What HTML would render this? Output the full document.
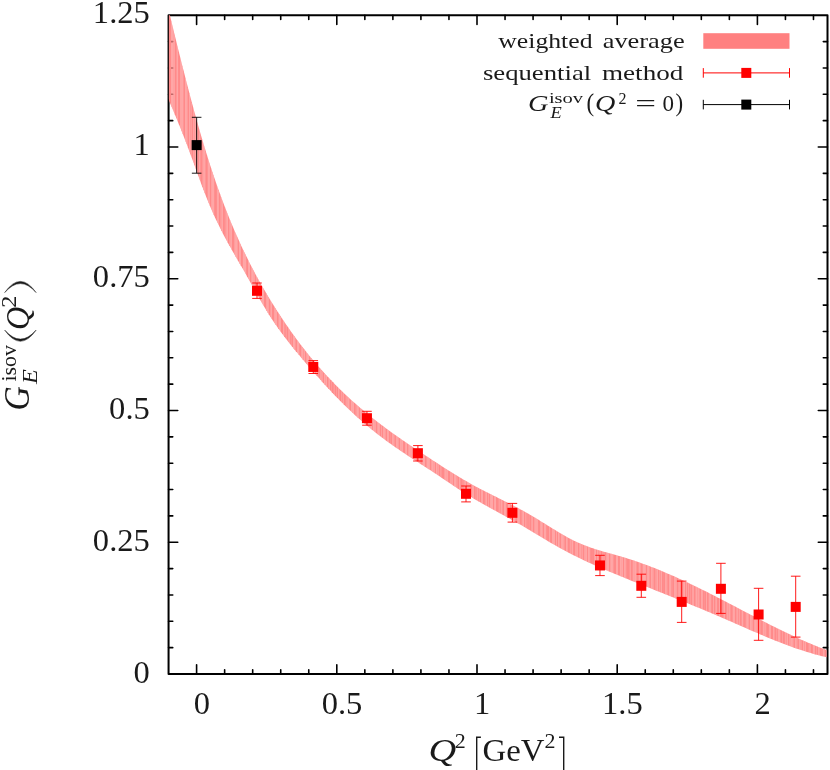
<!DOCTYPE html>
<html><head><meta charset="utf-8"><title>G_E isov</title>
<style>html,body{margin:0;padding:0;background:#fff;}body{width:830px;height:770px;overflow:hidden;}svg{display:block;will-change:transform;}text{font-family:"Liberation Serif",serif;fill:#1a1a1a;}.i{font-style:italic;}</style></head><body>
<svg width="830" height="770" viewBox="0 0 830 770">
<rect x="0" y="0" width="830" height="770" fill="#ffffff"/>
<defs><clipPath id="pc"><rect x="168.86" y="15.25" width="657.94" height="658.75"/></clipPath></defs>
<path d="M196.60 674.00v-9.20M196.60 15.25v9.20M224.64 674.00v-4.20M224.64 15.25v4.20M252.68 674.00v-4.20M252.68 15.25v4.20M280.72 674.00v-4.20M280.72 15.25v4.20M308.76 674.00v-4.20M308.76 15.25v4.20M336.80 674.00v-9.20M336.80 15.25v9.20M364.84 674.00v-4.20M364.84 15.25v4.20M392.88 674.00v-4.20M392.88 15.25v4.20M420.92 674.00v-4.20M420.92 15.25v4.20M448.96 674.00v-4.20M448.96 15.25v4.20M477.00 674.00v-9.20M477.00 15.25v9.20M505.04 674.00v-4.20M505.04 15.25v4.20M533.08 674.00v-4.20M533.08 15.25v4.20M561.12 674.00v-4.20M561.12 15.25v4.20M589.16 674.00v-4.20M589.16 15.25v4.20M617.20 674.00v-9.20M617.20 15.25v9.20M645.24 674.00v-4.20M645.24 15.25v4.20M673.28 674.00v-4.20M673.28 15.25v4.20M701.32 674.00v-4.20M701.32 15.25v4.20M729.36 674.00v-4.20M729.36 15.25v4.20M757.40 674.00v-9.20M757.40 15.25v9.20M785.44 674.00v-4.20M785.44 15.25v4.20M813.48 674.00v-4.20M813.48 15.25v4.20M168.56 647.65h4.20M827.50 647.65h-4.20M168.56 621.30h4.20M827.50 621.30h-4.20M168.56 594.95h4.20M827.50 594.95h-4.20M168.56 568.60h4.20M827.50 568.60h-4.20M168.56 542.25h9.20M827.50 542.25h-9.20M168.56 515.90h4.20M827.50 515.90h-4.20M168.56 489.55h4.20M827.50 489.55h-4.20M168.56 463.20h4.20M827.50 463.20h-4.20M168.56 436.85h4.20M827.50 436.85h-4.20M168.56 410.50h9.20M827.50 410.50h-9.20M168.56 384.15h4.20M827.50 384.15h-4.20M168.56 357.80h4.20M827.50 357.80h-4.20M168.56 331.45h4.20M827.50 331.45h-4.20M168.56 305.10h4.20M827.50 305.10h-4.20M168.56 278.75h9.20M827.50 278.75h-9.20M168.56 252.40h4.20M827.50 252.40h-4.20M168.56 226.05h4.20M827.50 226.05h-4.20M168.56 199.70h4.20M827.50 199.70h-4.20M168.56 173.35h4.20M827.50 173.35h-4.20M168.56 147.00h9.20M827.50 147.00h-9.20M168.56 120.65h4.20M827.50 120.65h-4.20M168.56 94.30h4.20M827.50 94.30h-4.20M168.56 67.95h4.20M827.50 67.95h-4.20M168.56 41.60h4.20M827.50 41.60h-4.20" stroke="#000" stroke-width="1.6" stroke-linecap="round" fill="none"/>
<rect x="168.56" y="15.25" width="658.94" height="658.75" fill="none" stroke="#000" stroke-width="2.00" stroke-linejoin="round"/>
<g clip-path="url(#pc)" fill="#ff8a8a" stroke="none">
<path d="M165.71 -2.38L167.45 4.91L167.45 97.32L165.71 93.40Z"/><path d="M167.45 4.91L168.52 9.38L168.52 99.75L167.45 97.32Z"/><path d="M168.52 9.38L169.99 15.52L169.99 103.12L168.52 99.75Z"/><path d="M169.99 15.52L171.44 21.54L171.44 106.47L169.99 103.12Z"/><path d="M171.44 21.54L172.45 25.71L172.45 108.82L171.44 106.47Z"/><path d="M172.45 25.71L173.71 30.92L173.71 111.79L172.45 108.82Z"/><path d="M173.71 30.92L174.72 35.08L174.72 114.19L173.71 111.79Z"/><path d="M174.72 35.08L176.13 40.86L176.13 117.56L174.72 114.19Z"/><path d="M176.13 40.86L177.57 46.70L177.57 121.04L176.13 117.56Z"/><path d="M177.57 46.70L178.97 52.37L178.97 124.46L177.57 121.04Z"/><path d="M178.97 52.37L180.34 57.86L180.34 127.85L178.97 124.46Z"/><path d="M180.34 57.86L181.35 61.92L181.35 130.39L180.34 127.85Z"/><path d="M181.35 61.92L182.44 66.23L182.44 133.13L181.35 130.39Z"/><path d="M182.44 66.23L183.87 71.87L183.87 136.78L182.44 133.13Z"/><path d="M183.87 71.87L185.55 78.46L185.55 141.15L183.87 136.78Z"/><path d="M185.55 78.46L186.39 81.73L186.39 143.35L185.55 141.15Z"/><path d="M186.39 81.73L187.83 87.28L187.83 147.17L186.39 143.35Z"/><path d="M187.83 87.28L189.43 93.36L189.43 151.46L187.83 147.17Z"/><path d="M189.43 93.36L190.13 96.04L190.13 153.38L189.43 151.46Z"/><path d="M190.13 96.04L191.79 102.25L191.79 157.91L190.13 153.38Z"/><path d="M191.79 102.25L193.30 107.86L193.30 162.07L191.79 157.91Z"/><path d="M193.30 107.86L194.13 110.89L194.13 164.36L193.30 162.07Z"/><path d="M194.13 110.89L195.62 116.32L195.62 168.48L194.13 164.36Z"/><path d="M195.62 116.32L197.14 121.77L197.14 172.67L195.62 168.48Z"/><path d="M197.14 121.77L197.93 124.58L197.93 174.85L197.14 172.67Z"/><path d="M197.93 124.58L199.46 129.98L199.46 179.06L197.93 174.85Z"/><path d="M199.46 129.98L200.90 134.94L200.90 182.95L199.46 179.06Z"/><path d="M200.90 134.94L202.13 139.16L202.13 186.26L200.90 182.95Z"/><path d="M202.13 139.16L203.29 143.07L203.29 189.34L202.13 186.26Z"/><path d="M203.29 143.07L204.41 146.79L204.41 192.27L203.29 189.34Z"/><path d="M204.41 146.79L205.88 151.61L205.88 196.05L204.41 192.27Z"/><path d="M205.88 151.61L207.09 155.53L207.09 199.10L205.88 196.05Z"/><path d="M207.09 155.53L208.44 159.83L208.44 202.44L207.09 199.10Z"/><path d="M208.44 159.83L209.66 163.64L209.66 205.36L208.44 202.44Z"/><path d="M209.66 163.64L211.25 168.53L211.25 209.08L209.66 205.36Z"/><path d="M211.25 168.53L212.49 172.30L212.49 211.91L211.25 209.08Z"/><path d="M212.49 172.30L213.49 175.28L213.49 214.14L212.49 211.91Z"/><path d="M213.49 175.28L214.94 179.56L214.94 217.32L213.49 214.14Z"/><path d="M214.94 179.56L216.04 182.74L216.04 219.67L214.94 217.32Z"/><path d="M216.04 182.74L217.44 186.74L217.44 222.61L216.04 219.67Z"/><path d="M217.44 186.74L218.66 190.19L218.66 225.12L217.44 222.61Z"/><path d="M218.66 190.19L220.14 194.29L220.14 228.11L218.66 225.12Z"/><path d="M220.14 194.29L221.24 197.30L221.24 230.29L220.14 228.11Z"/><path d="M221.24 197.30L222.59 200.92L222.59 232.90L221.24 230.29Z"/><path d="M222.59 200.92L224.04 204.76L224.04 235.67L222.59 232.90Z"/><path d="M224.04 204.76L225.13 207.60L225.13 237.73L224.04 235.67Z"/><path d="M225.13 207.60L226.73 211.71L226.73 240.69L225.13 237.73Z"/><path d="M226.73 211.71L227.56 213.79L227.56 242.20L226.73 240.69Z"/><path d="M227.56 213.79L229.20 217.90L229.20 245.18L227.56 242.20Z"/><path d="M229.20 217.90L230.29 220.55L230.29 247.11L229.20 245.18Z"/><path d="M230.29 220.55L231.58 223.67L231.58 249.40L230.29 247.11Z"/><path d="M231.58 223.67L233.00 227.06L233.00 251.90L231.58 249.40Z"/><path d="M233.00 227.06L234.21 229.91L234.21 254.02L233.00 251.90Z"/><path d="M234.21 229.91L235.43 232.73L235.43 256.13L234.21 254.02Z"/><path d="M235.43 232.73L236.45 235.07L236.45 257.90L235.43 256.13Z"/><path d="M236.45 235.07L237.80 238.10L237.80 260.23L236.45 257.90Z"/><path d="M237.80 238.10L239.48 241.83L239.48 263.13L237.80 260.23Z"/><path d="M239.48 241.83L240.65 244.38L240.65 265.15L239.48 263.13Z"/><path d="M240.65 244.38L242.04 247.38L242.04 267.56L240.65 265.15Z"/><path d="M242.04 247.38L243.50 250.46L243.50 270.09L242.04 267.56Z"/><path d="M243.50 250.46L244.61 252.78L244.61 272.03L243.50 270.09Z"/><path d="M244.61 252.78L245.49 254.61L245.49 273.58L244.61 272.03Z"/><path d="M245.49 254.61L246.94 257.57L246.94 276.14L245.49 273.58Z"/><path d="M246.94 257.57L248.41 260.53L248.41 278.76L246.94 276.14Z"/><path d="M248.41 260.53L249.47 262.63L249.47 280.66L248.41 278.76Z"/><path d="M249.47 262.63L251.23 266.06L251.23 283.83L249.47 280.66Z"/><path d="M251.23 266.06L252.50 268.51L252.50 286.14L251.23 283.83Z"/><path d="M252.50 268.51L253.72 270.84L253.72 288.36L252.50 286.14Z"/><path d="M253.72 270.84L254.77 272.81L254.77 290.26L253.72 288.36Z"/><path d="M254.77 272.81L256.29 275.64L256.29 293.01L254.77 290.26Z"/><path d="M256.29 275.64L257.13 277.17L257.13 294.51L256.29 293.01Z"/><path d="M257.13 277.17L258.53 279.72L258.53 297.01L257.13 294.51Z"/><path d="M258.53 279.72L259.91 282.21L259.91 299.46L258.53 297.01Z"/><path d="M259.91 282.21L261.38 284.81L261.38 302.01L259.91 299.46Z"/><path d="M261.38 284.81L262.50 286.78L262.50 303.94L261.38 302.01Z"/><path d="M262.50 286.78L263.57 288.63L263.57 305.75L262.50 303.94Z"/><path d="M263.57 288.63L264.98 291.07L264.98 308.12L263.57 305.75Z"/><path d="M264.98 291.07L266.26 293.24L266.26 310.21L264.98 308.12Z"/><path d="M266.26 293.24L267.53 295.38L267.53 312.27L266.26 310.21Z"/><path d="M267.53 295.38L268.73 297.38L268.73 314.17L267.53 312.27Z"/><path d="M268.73 297.38L270.18 299.78L270.18 316.43L268.73 314.17Z"/><path d="M270.18 299.78L271.49 301.92L271.49 318.44L270.18 316.43Z"/><path d="M271.49 301.92L272.98 304.34L272.98 320.70L271.49 318.44Z"/><path d="M272.98 304.34L274.28 306.43L274.28 322.63L272.98 320.70Z"/><path d="M274.28 306.43L275.39 308.19L275.39 324.25L274.28 322.63Z"/><path d="M275.39 308.19L276.64 310.16L276.64 326.05L275.39 324.25Z"/><path d="M276.64 310.16L278.13 312.48L278.13 328.17L276.64 326.05Z"/><path d="M278.13 312.48L279.49 314.57L279.49 330.06L278.13 328.17Z"/><path d="M279.49 314.57L280.64 316.33L280.64 331.65L279.49 330.06Z"/><path d="M280.64 316.33L282.01 318.40L282.01 333.51L280.64 331.65Z"/><path d="M282.01 318.40L283.38 320.47L283.38 335.36L282.01 333.51Z"/><path d="M283.38 320.47L284.10 321.52L284.10 336.30L283.38 335.36Z"/><path d="M284.10 321.52L285.92 324.21L285.92 338.70L284.10 336.30Z"/><path d="M285.92 324.21L286.82 325.53L286.82 339.87L285.92 338.70Z"/><path d="M286.82 325.53L288.23 327.57L288.23 341.69L286.82 339.87Z"/><path d="M288.23 327.57L289.73 329.70L289.73 343.58L288.23 341.69Z"/><path d="M289.73 329.70L290.96 331.45L290.96 345.13L289.73 343.58Z"/><path d="M290.96 331.45L291.89 332.75L291.89 346.28L290.96 345.13Z"/><path d="M291.89 332.75L293.50 335.00L293.50 348.28L291.89 346.28Z"/><path d="M293.50 335.00L294.41 336.25L294.41 349.39L293.50 348.28Z"/><path d="M294.41 336.25L295.88 338.26L295.88 351.19L294.41 349.39Z"/><path d="M295.88 338.26L297.46 340.39L297.46 353.09L295.88 351.19Z"/><path d="M297.46 340.39L298.50 341.78L298.50 354.34L297.46 353.09Z"/><path d="M298.50 341.78L299.90 343.63L299.90 356.01L298.50 354.34Z"/><path d="M299.90 343.63L301.27 345.43L301.27 357.63L299.90 356.01Z"/><path d="M301.27 345.43L302.61 347.17L302.61 359.22L301.27 357.63Z"/><path d="M302.61 347.17L303.86 348.78L303.86 360.69L302.61 359.22Z"/><path d="M303.86 348.78L304.67 349.80L304.67 361.64L303.86 360.69Z"/><path d="M304.67 349.80L306.22 351.77L306.22 363.46L304.67 361.64Z"/><path d="M306.22 351.77L307.53 353.41L307.53 364.99L306.22 363.46Z"/><path d="M307.53 353.41L308.56 354.68L308.56 366.19L307.53 364.99Z"/><path d="M308.56 354.68L310.16 356.64L310.16 368.05L308.56 366.19Z"/><path d="M310.16 356.64L311.49 358.26L311.49 369.58L310.16 368.05Z"/><path d="M311.49 358.26L312.91 359.97L312.91 371.23L311.49 369.58Z"/><path d="M312.91 359.97L314.27 361.59L314.27 372.79L312.91 371.23Z"/><path d="M314.27 361.59L315.04 362.50L315.04 373.67L314.27 372.79Z"/><path d="M315.04 362.50L316.39 364.08L316.39 375.21L315.04 373.67Z"/><path d="M316.39 364.08L317.95 365.89L317.95 376.98L316.39 375.21Z"/><path d="M317.95 365.89L318.90 366.98L318.90 378.06L317.95 376.98Z"/><path d="M318.90 366.98L320.25 368.51L320.25 379.57L318.90 378.06Z"/><path d="M320.25 368.51L321.76 370.21L321.76 381.26L320.25 379.57Z"/><path d="M321.76 370.21L322.79 371.35L322.79 382.40L321.76 381.26Z"/><path d="M322.79 371.35L324.47 373.21L324.47 384.26L322.79 382.40Z"/><path d="M324.47 373.21L325.80 374.67L325.80 385.73L324.47 384.26Z"/><path d="M325.80 374.67L326.56 375.49L326.56 386.56L325.80 385.73Z"/><path d="M326.56 375.49L328.17 377.21L328.17 388.30L326.56 386.56Z"/><path d="M328.17 377.21L329.62 378.76L329.62 389.87L328.17 388.30Z"/><path d="M329.62 378.76L331.03 380.23L331.03 391.37L329.62 389.87Z"/><path d="M331.03 380.23L331.86 381.11L331.86 392.27L331.03 391.37Z"/><path d="M331.86 381.11L333.08 382.37L333.08 393.55L331.86 392.27Z"/><path d="M333.08 382.37L334.82 384.15L334.82 395.38L333.08 393.55Z"/><path d="M334.82 384.15L336.13 385.48L336.13 396.73L334.82 395.38Z"/><path d="M336.13 385.48L336.96 386.31L336.96 397.59L336.13 396.73Z"/><path d="M336.96 386.31L338.41 387.75L338.41 399.07L336.96 397.59Z"/><path d="M338.41 387.75L339.87 389.19L339.87 400.55L338.41 399.07Z"/><path d="M339.87 389.19L341.24 390.53L341.24 401.93L339.87 400.55Z"/><path d="M341.24 390.53L342.09 391.36L342.09 402.78L341.24 401.93Z"/><path d="M342.09 391.36L343.70 392.90L343.70 404.37L342.09 402.78Z"/><path d="M343.70 392.90L345.07 394.21L345.07 405.72L343.70 404.37Z"/><path d="M345.07 394.21L346.20 395.27L346.20 406.81L345.07 405.72Z"/><path d="M346.20 395.27L347.24 396.24L347.24 407.81L346.20 406.81Z"/><path d="M347.24 396.24L348.44 397.36L348.44 408.97L347.24 407.81Z"/><path d="M348.44 397.36L349.89 398.69L349.89 410.34L348.44 408.97Z"/><path d="M349.89 398.69L351.51 400.17L351.51 411.86L349.89 410.34Z"/><path d="M351.51 400.17L352.31 400.89L352.31 412.61L351.51 411.86Z"/><path d="M352.31 400.89L353.57 402.02L353.57 413.78L352.31 412.61Z"/><path d="M353.57 402.02L355.09 403.37L355.09 415.16L353.57 413.78Z"/><path d="M355.09 403.37L356.18 404.33L356.18 416.16L355.09 415.16Z"/><path d="M356.18 404.33L357.52 405.51L357.52 417.37L356.18 416.16Z"/><path d="M357.52 405.51L358.73 406.55L358.73 418.45L357.52 417.37Z"/><path d="M358.73 406.55L360.34 407.93L360.34 419.87L358.73 418.45Z"/><path d="M360.34 407.93L361.73 409.12L361.73 421.10L360.34 419.87Z"/><path d="M361.73 409.12L362.85 410.06L362.85 422.07L361.73 421.10Z"/><path d="M362.85 410.06L363.95 410.99L363.95 423.01L362.85 422.07Z"/><path d="M363.95 410.99L365.36 412.16L365.36 424.22L363.95 423.01Z"/><path d="M365.36 412.16L366.81 413.36L366.81 425.45L365.36 424.22Z"/><path d="M366.81 413.36L368.33 414.60L368.33 426.72L366.81 425.45Z"/><path d="M368.33 414.60L369.65 415.67L369.65 427.81L368.33 426.72Z"/><path d="M369.65 415.67L370.45 416.32L370.45 428.47L369.65 427.81Z"/><path d="M370.45 416.32L371.59 417.23L371.59 429.41L370.45 428.47Z"/><path d="M371.59 417.23L373.40 418.67L373.40 430.87L371.59 429.41Z"/><path d="M373.40 418.67L374.75 419.73L374.75 431.95L373.40 430.87Z"/><path d="M374.75 419.73L375.74 420.50L375.74 432.73L374.75 431.95Z"/><path d="M375.74 420.50L377.23 421.66L377.23 433.90L375.74 432.73Z"/><path d="M377.23 421.66L378.57 422.70L378.57 434.95L377.23 433.90Z"/><path d="M378.57 422.70L379.70 423.56L379.70 435.82L378.57 434.95Z"/><path d="M379.70 423.56L381.15 424.66L381.15 436.93L379.70 435.82Z"/><path d="M381.15 424.66L381.90 425.23L381.90 437.49L381.15 436.93Z"/><path d="M381.90 425.23L383.34 426.31L383.34 438.58L381.90 437.49Z"/><path d="M383.34 426.31L384.63 427.28L384.63 439.54L383.34 438.58Z"/><path d="M384.63 427.28L385.82 428.16L385.82 440.42L384.63 439.54Z"/><path d="M385.82 428.16L387.61 429.48L387.61 441.73L385.82 440.42Z"/><path d="M387.61 429.48L388.34 430.01L388.34 442.25L387.61 441.73Z"/><path d="M388.34 430.01L390.03 431.25L390.03 443.47L388.34 442.25Z"/><path d="M390.03 431.25L390.94 431.90L390.94 444.12L390.03 443.47Z"/><path d="M390.94 431.90L392.41 432.96L392.41 445.16L390.94 444.12Z"/><path d="M392.41 432.96L393.73 433.91L393.73 446.09L392.41 445.16Z"/><path d="M393.73 433.91L394.87 434.72L394.87 446.88L393.73 446.09Z"/><path d="M394.87 434.72L396.37 435.79L396.37 447.93L394.87 446.88Z"/><path d="M396.37 435.79L397.67 436.70L397.67 448.82L396.37 447.93Z"/><path d="M397.67 436.70L398.81 437.51L398.81 449.60L397.67 448.82Z"/><path d="M398.81 437.51L400.37 438.60L400.37 450.66L398.81 449.60Z"/><path d="M400.37 438.60L401.29 439.24L401.29 451.28L400.37 450.66Z"/><path d="M401.29 439.24L402.60 440.14L402.60 452.16L401.29 451.28Z"/><path d="M402.60 440.14L403.99 441.10L403.99 453.09L402.60 452.16Z"/><path d="M403.99 441.10L405.29 441.99L405.29 453.96L403.99 453.09Z"/><path d="M405.29 441.99L406.47 442.80L406.47 454.74L405.29 453.96Z"/><path d="M406.47 442.80L408.21 443.99L408.21 455.89L406.47 454.74Z"/><path d="M408.21 443.99L409.44 444.82L409.44 456.70L408.21 455.89Z"/><path d="M409.44 444.82L410.26 445.38L410.26 457.24L409.44 456.70Z"/><path d="M410.26 445.38L411.72 446.36L411.72 458.20L410.26 457.24Z"/><path d="M411.72 446.36L412.92 447.17L412.92 458.98L411.72 458.20Z"/><path d="M412.92 447.17L414.34 448.12L414.34 459.91L412.92 458.98Z"/><path d="M414.34 448.12L415.52 448.91L415.52 460.67L414.34 459.91Z"/><path d="M415.52 448.91L416.95 449.86L416.95 461.60L415.52 460.67Z"/><path d="M416.95 449.86L418.51 450.90L418.51 462.61L416.95 461.60Z"/><path d="M418.51 450.90L419.45 451.52L419.45 463.22L418.51 462.61Z"/><path d="M419.45 451.52L420.91 452.49L420.91 464.16L419.45 463.22Z"/><path d="M420.91 452.49L422.16 453.32L422.16 464.97L420.91 464.16Z"/><path d="M422.16 453.32L423.55 454.23L423.55 465.87L422.16 464.97Z"/><path d="M423.55 454.23L424.39 454.79L424.39 466.41L423.55 465.87Z"/><path d="M424.39 454.79L426.12 455.92L426.12 467.53L424.39 466.41Z"/><path d="M426.12 455.92L427.53 456.85L427.53 468.45L426.12 467.53Z"/><path d="M427.53 456.85L428.60 457.55L428.60 469.14L427.53 468.45Z"/><path d="M428.60 457.55L429.68 458.26L429.68 469.85L428.60 469.14Z"/><path d="M429.68 458.26L431.22 459.27L431.22 470.85L429.68 469.85Z"/><path d="M431.22 459.27L432.53 460.13L432.53 471.71L431.22 470.85Z"/><path d="M432.53 460.13L433.78 460.95L433.78 472.53L432.53 471.71Z"/><path d="M433.78 460.95L434.74 461.58L434.74 473.16L433.78 472.53Z"/><path d="M434.74 461.58L436.56 462.76L436.56 474.35L434.74 473.16Z"/><path d="M436.56 462.76L437.83 463.59L437.83 475.20L436.56 474.35Z"/><path d="M437.83 463.59L438.78 464.21L438.78 475.83L437.83 475.20Z"/><path d="M438.78 464.21L440.18 465.11L440.18 476.75L438.78 475.83Z"/><path d="M440.18 465.11L441.11 465.71L441.11 477.38L440.18 476.75Z"/><path d="M441.11 465.71L443.00 466.94L443.00 478.64L441.11 477.38Z"/><path d="M443.00 466.94L444.18 467.69L444.18 479.43L443.00 478.64Z"/><path d="M444.18 467.69L445.35 468.44L445.35 480.22L444.18 479.43Z"/><path d="M445.35 468.44L446.72 469.31L446.72 481.15L445.35 480.22Z"/><path d="M446.72 469.31L447.64 469.90L447.64 481.77L446.72 481.15Z"/><path d="M447.64 469.90L449.00 470.76L449.00 482.70L447.64 481.77Z"/><path d="M449.00 470.76L450.25 471.55L450.25 483.55L449.00 482.70Z"/><path d="M450.25 471.55L451.76 472.49L451.76 484.57L450.25 483.55Z"/><path d="M451.76 472.49L452.72 473.09L452.72 485.22L451.76 484.57Z"/><path d="M452.72 473.09L454.53 474.21L454.53 486.44L452.72 485.22Z"/><path d="M454.53 474.21L455.54 474.83L455.54 487.12L454.53 486.44Z"/><path d="M455.54 474.83L456.81 475.61L456.81 487.97L455.54 487.12Z"/><path d="M456.81 475.61L457.88 476.26L457.88 488.69L456.81 487.97Z"/><path d="M457.88 476.26L459.54 477.27L459.54 489.78L457.88 488.69Z"/><path d="M459.54 477.27L460.91 478.09L460.91 490.68L459.54 489.78Z"/><path d="M460.91 478.09L462.08 478.78L462.08 491.43L460.91 490.68Z"/><path d="M462.08 478.78L463.12 479.40L463.12 492.10L462.08 491.43Z"/><path d="M463.12 479.40L464.75 480.36L464.75 493.13L463.12 492.10Z"/><path d="M464.75 480.36L465.63 480.86L465.63 493.68L464.75 493.13Z"/><path d="M465.63 480.86L467.35 481.86L467.35 494.75L465.63 493.68Z"/><path d="M467.35 481.86L468.48 482.50L468.48 495.45L467.35 494.75Z"/><path d="M468.48 482.50L469.58 483.12L469.58 496.12L468.48 495.45Z"/><path d="M469.58 483.12L471.01 483.92L471.01 496.98L469.58 496.12Z"/><path d="M471.01 483.92L472.37 484.68L472.37 497.80L471.01 496.98Z"/><path d="M472.37 484.68L473.42 485.25L473.42 498.42L472.37 497.80Z"/><path d="M473.42 485.25L475.09 486.15L475.09 499.40L473.42 498.42Z"/><path d="M475.09 486.15L476.10 486.70L476.10 500.00L475.09 499.40Z"/><path d="M476.10 486.70L477.69 487.55L477.69 500.92L476.10 500.00Z"/><path d="M477.69 487.55L478.94 488.21L478.94 501.64L477.69 500.92Z"/><path d="M478.94 488.21L479.76 488.63L479.76 502.11L478.94 501.64Z"/><path d="M479.76 488.63L481.39 489.49L481.39 503.04L479.76 502.11Z"/><path d="M481.39 489.49L482.46 490.04L482.46 503.65L481.39 503.04Z"/><path d="M482.46 490.04L484.04 490.85L484.04 504.53L482.46 503.65Z"/><path d="M484.04 490.85L485.19 491.44L485.19 505.18L484.04 504.53Z"/><path d="M485.19 491.44L486.42 492.07L486.42 505.87L485.19 505.18Z"/><path d="M486.42 492.07L487.99 492.86L487.99 506.74L486.42 505.87Z"/><path d="M487.99 492.86L488.74 493.24L488.74 507.15L487.99 506.74Z"/><path d="M488.74 493.24L490.34 494.05L490.34 508.04L488.74 507.15Z"/><path d="M490.34 494.05L491.48 494.62L491.48 508.67L490.34 508.04Z"/><path d="M491.48 494.62L492.58 495.17L492.58 509.27L491.48 508.67Z"/><path d="M492.58 495.17L494.33 496.04L494.33 510.23L492.58 509.27Z"/><path d="M494.33 496.04L495.50 496.62L495.50 510.87L494.33 510.23Z"/><path d="M495.50 496.62L497.00 497.36L497.00 511.69L495.50 510.87Z"/><path d="M497.00 497.36L498.09 497.91L498.09 512.29L497.00 511.69Z"/><path d="M498.09 497.91L499.21 498.46L499.21 512.90L498.09 512.29Z"/><path d="M499.21 498.46L500.91 499.31L500.91 513.83L499.21 512.90Z"/><path d="M500.91 499.31L501.65 499.67L501.65 514.23L500.91 513.83Z"/><path d="M501.65 499.67L502.89 500.30L502.89 514.91L501.65 514.23Z"/><path d="M502.89 500.30L504.61 501.16L504.61 515.86L502.89 514.91Z"/><path d="M504.61 501.16L505.67 501.69L505.67 516.44L504.61 515.86Z"/><path d="M505.67 501.69L506.95 502.33L506.95 517.14L505.67 516.44Z"/><path d="M506.95 502.33L508.57 503.15L508.57 518.03L506.95 517.14Z"/><path d="M508.57 503.15L509.50 503.62L509.50 518.55L508.57 518.03Z"/><path d="M509.50 503.62L511.15 504.46L511.15 519.47L509.50 518.55Z"/><path d="M511.15 504.46L512.28 505.04L512.28 520.10L511.15 519.47Z"/><path d="M512.28 505.04L513.36 505.60L513.36 520.71L512.28 520.10Z"/><path d="M513.36 505.60L514.48 506.18L514.48 521.34L513.36 520.71Z"/><path d="M514.48 506.18L515.88 506.91L515.88 522.13L514.48 521.34Z"/><path d="M515.88 506.91L517.63 507.83L517.63 523.13L515.88 522.13Z"/><path d="M517.63 507.83L518.56 508.32L518.56 523.66L517.63 523.13Z"/><path d="M518.56 508.32L519.69 508.93L519.69 524.31L518.56 523.66Z"/><path d="M519.69 508.93L521.07 509.67L521.07 525.11L519.69 524.31Z"/><path d="M521.07 509.67L522.74 510.58L522.74 526.09L521.07 525.11Z"/><path d="M522.74 510.58L523.56 511.03L523.56 526.57L522.74 526.09Z"/><path d="M523.56 511.03L525.23 511.96L525.23 527.56L523.56 526.57Z"/><path d="M525.23 511.96L526.11 512.45L526.11 528.08L525.23 527.56Z"/><path d="M526.11 512.45L527.93 513.48L527.93 529.15L526.11 528.08Z"/><path d="M527.93 513.48L528.94 514.06L528.94 529.76L527.93 529.15Z"/><path d="M528.94 514.06L529.91 514.63L529.91 530.34L528.94 529.76Z"/><path d="M529.91 514.63L531.77 515.72L531.77 531.45L529.91 530.34Z"/><path d="M531.77 515.72L532.69 516.26L532.69 532.00L531.77 531.45Z"/><path d="M532.69 516.26L534.21 517.18L534.21 532.92L532.69 532.00Z"/><path d="M534.21 517.18L535.37 517.87L535.37 533.61L534.21 532.92Z"/><path d="M535.37 517.87L536.38 518.49L536.38 534.22L535.37 533.61Z"/><path d="M536.38 518.49L537.67 519.28L537.67 535.00L536.38 534.22Z"/><path d="M537.67 519.28L538.99 520.09L538.99 535.79L537.67 535.00Z"/><path d="M538.99 520.09L540.28 520.89L540.28 536.57L538.99 535.79Z"/><path d="M540.28 520.89L541.50 521.64L541.50 537.30L540.28 536.57Z"/><path d="M541.50 521.64L542.78 522.44L542.78 538.07L541.50 537.30Z"/><path d="M542.78 522.44L544.65 523.61L544.65 539.18L542.78 538.07Z"/><path d="M544.65 523.61L545.39 524.07L545.39 539.62L544.65 539.18Z"/><path d="M545.39 524.07L546.94 525.04L546.94 540.55L545.39 539.62Z"/><path d="M546.94 525.04L547.98 525.68L547.98 541.16L546.94 540.55Z"/><path d="M547.98 525.68L549.33 526.52L549.33 541.95L547.98 541.16Z"/><path d="M549.33 526.52L550.97 527.54L550.97 542.91L549.33 541.95Z"/><path d="M550.97 527.54L552.36 528.41L552.36 543.73L550.97 542.91Z"/><path d="M552.36 528.41L553.35 529.01L553.35 544.30L552.36 543.73Z"/><path d="M553.35 529.01L554.34 529.62L554.34 544.87L553.35 544.30Z"/><path d="M554.34 529.62L556.26 530.79L556.26 545.97L554.34 544.87Z"/><path d="M556.26 530.79L556.94 531.20L556.94 546.36L556.26 545.97Z"/><path d="M556.94 531.20L558.45 532.11L558.45 547.21L556.94 546.36Z"/><path d="M558.45 532.11L559.83 532.93L559.83 547.98L558.45 547.21Z"/><path d="M559.83 532.93L561.34 533.82L561.34 548.82L559.83 547.98Z"/><path d="M561.34 533.82L562.59 534.54L562.59 549.50L561.34 548.82Z"/><path d="M562.59 534.54L563.74 535.20L563.74 550.12L562.59 549.50Z"/><path d="M563.74 535.20L564.89 535.85L564.89 550.74L563.74 550.12Z"/><path d="M564.89 535.85L566.45 536.72L566.45 551.58L564.89 550.74Z"/><path d="M566.45 536.72L567.76 537.44L567.76 552.27L566.45 551.58Z"/><path d="M567.76 537.44L569.05 538.13L569.05 552.94L567.76 552.27Z"/><path d="M569.05 538.13L570.24 538.76L570.24 553.56L569.05 552.94Z"/><path d="M570.24 538.76L571.13 539.22L571.13 554.01L570.24 553.56Z"/><path d="M571.13 539.22L572.55 539.95L572.55 554.74L571.13 554.01Z"/><path d="M572.55 539.95L573.95 540.64L573.95 555.45L572.55 554.74Z"/><path d="M573.95 540.64L575.25 541.27L575.25 556.10L573.95 555.45Z"/><path d="M575.25 541.27L576.75 541.98L576.75 556.84L575.25 556.10Z"/><path d="M576.75 541.98L577.66 542.39L577.66 557.29L576.75 556.84Z"/><path d="M577.66 542.39L579.22 543.09L579.22 558.05L577.66 557.29Z"/><path d="M579.22 543.09L580.32 543.56L580.32 558.58L579.22 558.05Z"/><path d="M580.32 543.56L581.86 544.21L581.86 559.33L580.32 558.58Z"/><path d="M581.86 544.21L582.78 544.59L582.78 559.76L581.86 559.33Z"/><path d="M582.78 544.59L584.24 545.17L584.24 560.46L582.78 559.76Z"/><path d="M584.24 545.17L585.29 545.58L585.29 560.95L584.24 560.46Z"/><path d="M585.29 545.58L586.65 546.09L586.65 561.58L585.29 560.95Z"/><path d="M586.65 546.09L588.40 546.73L588.40 562.40L586.65 561.58Z"/><path d="M588.40 546.73L589.29 547.05L589.29 562.80L588.40 562.40Z"/><path d="M589.29 547.05L590.94 547.63L590.94 563.56L589.29 562.80Z"/><path d="M590.94 547.63L592.00 547.99L592.00 564.04L590.94 563.56Z"/><path d="M592.00 547.99L592.97 548.32L592.97 564.48L592.00 564.04Z"/><path d="M592.97 548.32L594.74 548.89L594.74 565.27L592.97 564.48Z"/><path d="M594.74 548.89L595.55 549.16L595.55 565.63L594.74 565.27Z"/><path d="M595.55 549.16L597.34 549.72L597.34 566.42L595.55 565.63Z"/><path d="M597.34 549.72L598.10 549.95L598.10 566.76L597.34 566.42Z"/><path d="M598.10 549.95L599.81 550.47L599.81 567.51L598.10 566.76Z"/><path d="M599.81 550.47L600.78 550.76L600.78 567.92L599.81 567.51Z"/><path d="M600.78 550.76L602.18 551.17L602.18 568.53L600.78 567.92Z"/><path d="M602.18 551.17L603.85 551.66L603.85 569.25L602.18 568.53Z"/><path d="M603.85 551.66L604.84 551.94L604.84 569.68L603.85 569.25Z"/><path d="M604.84 551.94L606.24 552.34L606.24 570.27L604.84 569.68Z"/><path d="M606.24 552.34L607.58 552.72L607.58 570.84L606.24 570.27Z"/><path d="M607.58 552.72L608.46 552.97L608.46 571.21L607.58 570.84Z"/><path d="M608.46 552.97L610.22 553.46L610.22 571.95L608.46 571.21Z"/><path d="M610.22 553.46L611.55 553.83L611.55 572.51L610.22 571.95Z"/><path d="M611.55 553.83L612.35 554.06L612.35 572.84L611.55 572.51Z"/><path d="M612.35 554.06L613.89 554.49L613.89 573.49L612.35 572.84Z"/><path d="M613.89 554.49L615.01 554.80L615.01 573.95L613.89 573.49Z"/><path d="M615.01 554.80L616.59 555.25L616.59 574.60L615.01 573.95Z"/><path d="M616.59 555.25L617.42 555.48L617.42 574.95L616.59 574.60Z"/><path d="M617.42 555.48L619.02 555.94L619.02 575.60L617.42 574.95Z"/><path d="M619.02 555.94L620.48 556.36L620.48 576.21L619.02 575.60Z"/><path d="M620.48 556.36L621.73 556.73L621.73 576.72L620.48 576.21Z"/><path d="M621.73 556.73L622.62 556.99L622.62 577.08L621.73 576.72Z"/><path d="M622.62 556.99L624.37 557.51L624.37 577.80L622.62 577.08Z"/><path d="M624.37 557.51L625.27 557.79L625.27 578.16L624.37 577.80Z"/><path d="M625.27 557.79L626.93 558.30L626.93 578.84L625.27 578.16Z"/><path d="M626.93 558.30L628.01 558.64L628.01 579.28L626.93 578.84Z"/><path d="M628.01 558.64L629.09 558.98L629.09 579.72L628.01 579.28Z"/><path d="M629.09 558.98L630.74 559.51L630.74 580.39L629.09 579.72Z"/><path d="M630.74 559.51L632.07 559.95L632.07 580.93L630.74 580.39Z"/><path d="M632.07 559.95L633.29 560.35L633.29 581.42L632.07 580.93Z"/><path d="M633.29 560.35L634.75 560.84L634.75 582.01L633.29 581.42Z"/><path d="M634.75 560.84L635.58 561.13L635.58 582.35L634.75 582.01Z"/><path d="M635.58 561.13L636.86 561.56L636.86 582.86L635.58 582.35Z"/><path d="M636.86 561.56L638.09 561.99L638.09 583.36L636.86 582.86Z"/><path d="M638.09 561.99L639.62 562.53L639.62 583.98L638.09 583.36Z"/><path d="M639.62 562.53L640.82 562.95L640.82 584.46L639.62 583.98Z"/><path d="M640.82 562.95L642.08 563.41L642.08 584.97L640.82 584.46Z"/><path d="M642.08 563.41L643.43 563.90L643.43 585.51L642.08 584.97Z"/><path d="M643.43 563.90L644.60 564.32L644.60 585.98L643.43 585.51Z"/><path d="M644.60 564.32L645.72 564.74L645.72 586.43L644.60 585.98Z"/><path d="M645.72 564.74L647.30 565.33L647.30 587.06L645.72 586.43Z"/><path d="M647.30 565.33L648.46 565.77L648.46 587.53L647.30 587.06Z"/><path d="M648.46 565.77L649.86 566.30L649.86 588.09L648.46 587.53Z"/><path d="M649.86 566.30L651.46 566.92L651.46 588.73L649.86 588.09Z"/><path d="M651.46 566.92L652.26 567.23L652.26 589.05L651.46 588.73Z"/><path d="M652.26 567.23L653.84 567.85L653.84 589.69L652.26 589.05Z"/><path d="M653.84 567.85L655.14 568.36L655.14 590.20L653.84 589.69Z"/><path d="M655.14 568.36L656.19 568.79L656.19 590.63L655.14 590.20Z"/><path d="M656.19 568.79L657.60 569.35L657.60 591.19L656.19 590.63Z"/><path d="M657.60 569.35L659.20 570.01L659.20 591.84L657.60 591.19Z"/><path d="M659.20 570.01L660.09 570.37L660.09 592.19L659.20 591.84Z"/><path d="M660.09 570.37L661.61 571.00L661.61 592.80L660.09 592.19Z"/><path d="M661.61 571.00L662.98 571.57L662.98 593.35L661.61 592.80Z"/><path d="M662.98 571.57L663.96 571.98L663.96 593.74L662.98 593.35Z"/><path d="M663.96 571.98L665.65 572.70L665.65 594.42L663.96 593.74Z"/><path d="M665.65 572.70L666.71 573.15L666.71 594.85L665.65 594.42Z"/><path d="M666.71 573.15L667.91 573.67L667.91 595.33L666.71 594.85Z"/><path d="M667.91 573.67L669.34 574.28L669.34 595.90L667.91 595.33Z"/><path d="M669.34 574.28L670.44 574.76L670.44 596.35L669.34 595.90Z"/><path d="M670.44 574.76L671.91 575.40L671.91 596.94L670.44 596.35Z"/><path d="M671.91 575.40L672.92 575.85L672.92 597.34L671.91 596.94Z"/><path d="M672.92 575.85L674.62 576.61L674.62 598.03L672.92 597.34Z"/><path d="M674.62 576.61L675.66 577.07L675.66 598.45L674.62 598.03Z"/><path d="M675.66 577.07L676.76 577.56L676.76 598.89L675.66 598.45Z"/><path d="M676.76 577.56L678.17 578.20L678.17 599.46L676.76 598.89Z"/><path d="M678.17 578.20L679.75 578.92L679.75 600.10L678.17 599.46Z"/><path d="M679.75 578.92L680.98 579.48L680.98 600.60L679.75 600.10Z"/><path d="M680.98 579.48L682.06 579.98L682.06 601.04L680.98 600.60Z"/><path d="M682.06 579.98L683.26 580.54L683.26 601.53L682.06 601.04Z"/><path d="M683.26 580.54L684.56 581.14L684.56 602.06L683.26 601.53Z"/><path d="M684.56 581.14L686.24 581.93L686.24 602.74L684.56 602.06Z"/><path d="M686.24 581.93L686.97 582.27L686.97 603.04L686.24 602.74Z"/><path d="M686.97 582.27L688.75 583.11L688.75 603.77L686.97 603.04Z"/><path d="M688.75 583.11L690.02 583.72L690.02 604.28L688.75 603.77Z"/><path d="M690.02 583.72L690.90 584.14L690.90 604.65L690.02 604.28Z"/><path d="M690.90 584.14L692.27 584.79L692.27 605.21L690.90 604.65Z"/><path d="M692.27 584.79L693.70 585.48L693.70 605.79L692.27 605.21Z"/><path d="M693.70 585.48L695.13 586.17L695.13 606.38L693.70 605.79Z"/><path d="M695.13 586.17L696.52 586.85L696.52 606.95L695.13 606.38Z"/><path d="M696.52 586.85L697.83 587.49L697.83 607.50L696.52 606.95Z"/><path d="M697.83 587.49L698.66 587.90L698.66 607.84L697.83 607.50Z"/><path d="M698.66 587.90L699.89 588.50L699.89 608.35L698.66 607.84Z"/><path d="M699.89 588.50L701.37 589.23L701.37 608.96L699.89 608.35Z"/><path d="M701.37 589.23L702.70 589.89L702.70 609.52L701.37 608.96Z"/><path d="M702.70 589.89L704.05 590.56L704.05 610.08L702.70 609.52Z"/><path d="M704.05 590.56L704.98 591.03L704.98 610.47L704.05 610.08Z"/><path d="M704.98 591.03L706.62 591.85L706.62 611.15L704.98 610.47Z"/><path d="M706.62 591.85L708.08 592.59L708.08 611.77L706.62 611.15Z"/><path d="M708.08 592.59L709.36 593.24L709.36 612.31L708.08 611.77Z"/><path d="M709.36 593.24L710.67 593.90L710.67 612.86L709.36 612.31Z"/><path d="M710.67 593.90L711.94 594.54L711.94 613.40L710.67 612.86Z"/><path d="M711.94 594.54L713.25 595.21L713.25 613.95L711.94 613.40Z"/><path d="M713.25 595.21L713.96 595.57L713.96 614.25L713.25 613.95Z"/><path d="M713.96 595.57L715.80 596.52L715.80 615.04L713.96 614.25Z"/><path d="M715.80 596.52L716.67 596.97L716.67 615.41L715.80 615.04Z"/><path d="M716.67 596.97L717.99 597.64L717.99 615.98L716.67 615.41Z"/><path d="M717.99 597.64L719.37 598.35L719.37 616.57L717.99 615.98Z"/><path d="M719.37 598.35L720.97 599.18L720.97 617.26L719.37 616.57Z"/><path d="M720.97 599.18L722.03 599.73L722.03 617.72L720.97 617.26Z"/><path d="M722.03 599.73L723.16 600.32L723.16 618.20L722.03 617.72Z"/><path d="M723.16 600.32L724.46 600.99L724.46 618.77L723.16 618.20Z"/><path d="M724.46 600.99L726.09 601.84L726.09 619.47L724.46 618.77Z"/><path d="M726.09 601.84L727.32 602.48L727.32 620.01L726.09 619.47Z"/><path d="M727.32 602.48L728.17 602.93L728.17 620.38L727.32 620.01Z"/><path d="M728.17 602.93L729.53 603.64L729.53 620.98L728.17 620.38Z"/><path d="M729.53 603.64L730.89 604.35L730.89 621.57L729.53 620.98Z"/><path d="M730.89 604.35L732.08 604.97L732.08 622.09L730.89 621.57Z"/><path d="M732.08 604.97L733.59 605.76L733.59 622.75L732.08 622.09Z"/><path d="M733.59 605.76L734.66 606.32L734.66 623.22L733.59 622.75Z"/><path d="M734.66 606.32L736.17 607.11L736.17 623.89L734.66 623.22Z"/><path d="M736.17 607.11L737.69 607.91L737.69 624.55L736.17 623.89Z"/><path d="M737.69 607.91L738.92 608.56L738.92 625.09L737.69 624.55Z"/><path d="M738.92 608.56L739.73 608.98L739.73 625.45L738.92 625.09Z"/><path d="M739.73 608.98L741.08 609.69L741.08 626.04L739.73 625.45Z"/><path d="M741.08 609.69L742.50 610.44L742.50 626.67L741.08 626.04Z"/><path d="M742.50 610.44L743.94 611.19L743.94 627.30L742.50 626.67Z"/><path d="M743.94 611.19L745.06 611.78L745.06 627.79L743.94 627.30Z"/><path d="M745.06 611.78L746.26 612.40L746.26 628.31L745.06 627.79Z"/><path d="M746.26 612.40L747.61 613.11L747.61 628.90L746.26 628.31Z"/><path d="M747.61 613.11L748.80 613.74L748.80 629.42L747.61 628.90Z"/><path d="M748.80 613.74L750.51 614.63L750.51 630.17L748.80 629.42Z"/><path d="M750.51 614.63L751.69 615.24L751.69 630.68L750.51 630.17Z"/><path d="M751.69 615.24L752.80 615.82L752.80 631.16L751.69 630.68Z"/><path d="M752.80 615.82L754.27 616.59L754.27 631.80L752.80 631.16Z"/><path d="M754.27 616.59L755.44 617.19L755.44 632.30L754.27 631.80Z"/><path d="M755.44 617.19L756.73 617.86L756.73 632.86L755.44 632.30Z"/><path d="M756.73 617.86L757.92 618.48L757.92 633.36L756.73 632.86Z"/><path d="M757.92 618.48L759.28 619.18L759.28 633.95L757.92 633.36Z"/><path d="M759.28 619.18L760.89 620.01L760.89 634.63L759.28 633.95Z"/><path d="M760.89 620.01L762.05 620.61L762.05 635.12L760.89 634.63Z"/><path d="M762.05 620.61L763.36 621.28L763.36 635.68L762.05 635.12Z"/><path d="M763.36 621.28L764.20 621.71L764.20 636.03L763.36 635.68Z"/><path d="M764.20 621.71L765.73 622.49L765.73 636.67L764.20 636.03Z"/><path d="M765.73 622.49L766.93 623.11L766.93 637.17L765.73 636.67Z"/><path d="M766.93 623.11L768.04 623.67L768.04 637.63L766.93 637.17Z"/><path d="M768.04 623.67L769.52 624.42L769.52 638.24L768.04 637.63Z"/><path d="M769.52 624.42L770.60 624.97L770.60 638.69L769.52 638.24Z"/><path d="M770.60 624.97L771.99 625.67L771.99 639.26L770.60 638.69Z"/><path d="M771.99 625.67L773.64 626.49L773.64 639.92L771.99 639.26Z"/><path d="M773.64 626.49L774.85 627.10L774.85 640.41L773.64 639.92Z"/><path d="M774.85 627.10L776.15 627.75L776.15 640.93L774.85 640.41Z"/><path d="M776.15 627.75L777.04 628.19L777.04 641.29L776.15 640.93Z"/><path d="M777.04 628.19L778.38 628.85L778.38 641.82L777.04 641.29Z"/><path d="M778.38 628.85L779.58 629.44L779.58 642.29L778.38 641.82Z"/><path d="M779.58 629.44L780.91 630.10L780.91 642.81L779.58 642.29Z"/><path d="M780.91 630.10L782.20 630.72L782.20 643.31L780.91 642.81Z"/><path d="M782.20 630.72L784.04 631.62L784.04 644.01L782.20 643.31Z"/><path d="M784.04 631.62L785.28 632.22L785.28 644.48L784.04 644.01Z"/><path d="M785.28 632.22L786.13 632.62L786.13 644.80L785.28 644.48Z"/><path d="M786.13 632.62L787.45 633.25L787.45 645.30L786.13 644.80Z"/><path d="M787.45 633.25L789.19 634.08L789.19 645.94L787.45 645.30Z"/><path d="M789.19 634.08L790.22 634.57L790.22 646.32L789.19 645.94Z"/><path d="M790.22 634.57L791.38 635.12L791.38 646.74L790.22 646.32Z"/><path d="M791.38 635.12L792.73 635.75L792.73 647.22L791.38 646.74Z"/><path d="M792.73 635.75L793.89 636.29L793.89 647.64L792.73 647.22Z"/><path d="M793.89 636.29L795.38 636.98L795.38 648.16L793.89 647.64Z"/><path d="M795.38 636.98L796.76 637.61L796.76 648.63L795.38 648.16Z"/><path d="M796.76 637.61L797.91 638.13L797.91 649.03L796.76 648.63Z"/><path d="M797.91 638.13L799.39 638.80L799.39 649.53L797.91 649.03Z"/><path d="M799.39 638.80L800.23 639.18L800.23 649.81L799.39 649.53Z"/><path d="M800.23 639.18L801.83 639.89L801.83 650.34L800.23 649.81Z"/><path d="M801.83 639.89L803.36 640.57L803.36 650.84L801.83 650.34Z"/><path d="M803.36 640.57L804.11 640.90L804.11 651.08L803.36 650.84Z"/><path d="M804.11 640.90L805.62 641.56L805.62 651.55L804.11 651.08Z"/><path d="M805.62 641.56L806.99 642.16L806.99 651.98L805.62 651.55Z"/><path d="M806.99 642.16L808.09 642.63L808.09 652.32L806.99 651.98Z"/><path d="M808.09 642.63L809.78 643.35L809.78 652.83L808.09 652.32Z"/><path d="M809.78 643.35L810.76 643.76L810.76 653.12L809.78 652.83Z"/><path d="M810.76 643.76L812.04 644.30L812.04 653.49L810.76 653.12Z"/><path d="M812.04 644.30L813.60 644.94L813.60 653.94L812.04 653.49Z"/><path d="M813.60 644.94L814.32 645.24L814.32 654.14L813.60 653.94Z"/><path d="M814.32 645.24L816.15 645.98L816.15 654.64L814.32 654.14Z"/><path d="M816.15 645.98L816.97 646.31L816.97 654.86L816.15 654.64Z"/><path d="M816.97 646.31L818.41 646.89L818.41 655.25L816.97 654.86Z"/><path d="M818.41 646.89L819.77 647.42L819.77 655.60L818.41 655.25Z"/><path d="M819.77 647.42L821.05 647.92L821.05 655.92L819.77 655.60Z"/><path d="M821.05 647.92L822.06 648.31L822.06 656.17L821.05 655.92Z"/><path d="M822.06 648.31L823.52 648.87L823.52 656.53L822.06 656.17Z"/><path d="M823.52 648.87L824.83 649.37L824.83 656.84L823.52 656.53Z"/><path d="M824.83 649.37L826.50 649.99L826.50 657.22L824.83 656.84Z"/><path d="M826.50 649.99L827.77 650.45L827.77 657.50L826.50 657.22Z"/><path d="M827.77 650.45L828.84 650.84L828.84 657.73L827.77 657.50Z"/><path d="M828.84 650.84L830.35 651.38L830.35 658.05L828.84 657.73Z"/>
</g>
<path d="M257.00 283.00V298.40M252.20 283.00h9.60M252.20 298.40h9.60" stroke="#ff0000" stroke-width="0.90" fill="none"/><rect x="252.00" y="285.80" width="10.00" height="10.00" fill="#ff0000"/>
<path d="M313.27 360.60V373.50M308.47 360.60h9.60M308.47 373.50h9.60" stroke="#ff0000" stroke-width="0.90" fill="none"/><rect x="308.27" y="361.96" width="10.00" height="10.00" fill="#ff0000"/>
<path d="M366.95 411.30V425.20M362.15 411.30h9.60M362.15 425.20h9.60" stroke="#ff0000" stroke-width="0.90" fill="none"/><rect x="361.95" y="413.20" width="10.00" height="10.00" fill="#ff0000"/>
<path d="M417.90 445.60V461.00M413.10 445.60h9.60M413.10 461.00h9.60" stroke="#ff0000" stroke-width="0.90" fill="none"/><rect x="412.90" y="448.20" width="10.00" height="10.00" fill="#ff0000"/>
<path d="M466.00 486.00V501.90M461.20 486.00h9.60M461.20 501.90h9.60" stroke="#ff0000" stroke-width="0.90" fill="none"/><rect x="461.00" y="488.80" width="10.00" height="10.00" fill="#ff0000"/>
<path d="M512.40 503.40V522.10M507.60 503.40h9.60M507.60 522.10h9.60" stroke="#ff0000" stroke-width="0.90" fill="none"/><rect x="507.40" y="507.80" width="10.00" height="10.00" fill="#ff0000"/>
<path d="M599.97 555.30V575.60M595.17 555.30h9.60M595.17 575.60h9.60" stroke="#ff0000" stroke-width="0.90" fill="none"/><rect x="594.97" y="560.45" width="10.00" height="10.00" fill="#ff0000"/>
<path d="M641.30 574.20V597.30M636.50 574.20h9.60M636.50 597.30h9.60" stroke="#ff0000" stroke-width="0.90" fill="none"/><rect x="636.30" y="580.80" width="10.00" height="10.00" fill="#ff0000"/>
<path d="M681.70 581.10V622.40M676.90 581.10h9.60M676.90 622.40h9.60" stroke="#ff0000" stroke-width="0.90" fill="none"/><rect x="676.70" y="596.90" width="10.00" height="10.00" fill="#ff0000"/>
<path d="M720.90 563.30V613.40M716.10 563.30h9.60M716.10 613.40h9.60" stroke="#ff0000" stroke-width="0.90" fill="none"/><rect x="715.90" y="583.80" width="10.00" height="10.00" fill="#ff0000"/>
<path d="M758.60 588.30V640.30M753.80 588.30h9.60M753.80 640.30h9.60" stroke="#ff0000" stroke-width="0.90" fill="none"/><rect x="753.60" y="609.50" width="10.00" height="10.00" fill="#ff0000"/>
<path d="M795.70 576.20V637.10M790.90 576.20h9.60M790.90 637.10h9.60" stroke="#ff0000" stroke-width="0.90" fill="none"/><rect x="790.70" y="601.90" width="10.00" height="10.00" fill="#ff0000"/>
<path d="M196.65 117.30V173.20M191.85 117.30h9.60M191.85 173.20h9.60" stroke="#000000" stroke-width="0.90" fill="none"/><rect x="191.65" y="140.10" width="10.00" height="10.00" fill="#000000"/>
<rect x="703.3" y="33.2" width="86.2" height="15.6" fill="#ff8080"/>
<path d="M703.3 72.90H789.5M703.3 68.10v9.60M789.5 68.10v9.60" stroke="#ff0000" stroke-width="1" fill="none"/>
<rect x="741.30" y="67.90" width="10.00" height="10.00" fill="#ff0000"/>
<path d="M703.3 104.60H789.5M703.3 99.80v9.60M789.5 99.80v9.60" stroke="#000000" stroke-width="1" fill="none"/>
<rect x="741.30" y="99.60" width="10.00" height="10.00" fill="#000000"/>
<text x="498.30" y="48.30" font-size="22" textLength="94.2" lengthAdjust="spacingAndGlyphs">weighted</text>
<text x="602.70" y="48.30" font-size="22" textLength="82.0" lengthAdjust="spacingAndGlyphs">average</text>
<text x="482.90" y="80.10" font-size="22" textLength="108.3" lengthAdjust="spacingAndGlyphs">sequential</text>
<text x="602.00" y="80.10" font-size="22" textLength="81.3" lengthAdjust="spacingAndGlyphs">method</text>
<text transform="translate(528.00 111.00) scale(1.260 1.000)" font-size="22.5" class="i">G</text>
<text x="548.90" y="102.90" font-size="15" textLength="34.2" lengthAdjust="spacingAndGlyphs">isov</text>
<text transform="translate(550.60 118.00) scale(1.150 1.000)" font-size="16" class="i">E</text>
<text transform="translate(586.60 111.00) scale(1.000 1.080)" font-size="23">(</text>
<text transform="translate(595.00 111.00) scale(1.250 1.000)" font-size="22.5" class="i">Q</text>
<text x="618.40" y="104.00" font-size="16">2</text>
<text transform="translate(635.30 111.00) scale(1.600 1.000)" font-size="23">=</text>
<text x="662.60" y="111.00" font-size="23">0</text>
<text transform="translate(675.60 111.00) scale(1.000 1.080)" font-size="23">)</text>
<text transform="translate(149.80 682.80) scale(1.050 1.000)" font-size="31" text-anchor="end">0</text>
<text transform="translate(149.80 550.80) scale(1.050 1.000)" font-size="31" text-anchor="end">0.25</text>
<text transform="translate(149.80 418.80) scale(1.050 1.000)" font-size="31" text-anchor="end">0.5</text>
<text transform="translate(149.80 286.80) scale(1.050 1.000)" font-size="31" text-anchor="end">0.75</text>
<text transform="translate(149.80 154.80) scale(1.050 1.000)" font-size="31" text-anchor="end">1</text>
<text transform="translate(149.80 22.80) scale(1.050 1.000)" font-size="31" text-anchor="end">1.25</text>
<text transform="translate(201.80 714.20) scale(1.050 1.000)" font-size="31" text-anchor="middle">0</text>
<text transform="translate(342.00 714.20) scale(1.050 1.000)" font-size="31" text-anchor="middle">0.5</text>
<text transform="translate(482.20 714.20) scale(1.050 1.000)" font-size="31" text-anchor="middle">1</text>
<text transform="translate(622.40 714.20) scale(1.050 1.000)" font-size="31" text-anchor="middle">1.5</text>
<text transform="translate(762.60 714.20) scale(1.050 1.000)" font-size="31" text-anchor="middle">2</text>
<text transform="translate(428.60 760.70) scale(1.200 1.000)" font-size="32" class="i">Q</text>
<text x="454.80" y="748.20" font-size="22">2</text>
<text x="482.50" y="760.70" font-size="32" textLength="62" lengthAdjust="spacingAndGlyphs">GeV</text>
<text x="544.60" y="748.20" font-size="22">2</text>
<path d="M480.9 737.3H476.7V771M559.0 737.3H563.7V771" stroke="#1a1a1a" stroke-width="1.4" fill="none"/>
<g transform="translate(28.6,410.5) rotate(-90)">
<text transform="translate(0.00 0.00) scale(1.050 1.100)" font-size="32" class="i">G</text>
<text x="29.00" y="-12.20" font-size="22" textLength="36.5" lengthAdjust="spacingAndGlyphs">isov</text>
<text transform="translate(26.50 8.60) scale(1.100 1.000)" font-size="22" class="i">E</text>
<path d="M80.4 -23.9Q58.0 -8.2 80.4 7.5Q62.4 -8.2 80.4 -23.9Z" fill="#1a1a1a" stroke="#1a1a1a" stroke-width="0.5" stroke-linejoin="round"/>
<text transform="translate(80.50 0.00) scale(1.000 1.050)" font-size="32" class="i">Q</text>
<text transform="translate(102.80 -12.40) scale(1.100 1.000)" font-size="22">2</text>
<path d="M117.9 -23.9Q140.3 -8.2 117.9 7.5Q135.9 -8.2 117.9 -23.9Z" fill="#1a1a1a" stroke="#1a1a1a" stroke-width="0.5" stroke-linejoin="round"/>
</g>
</svg></body></html>
